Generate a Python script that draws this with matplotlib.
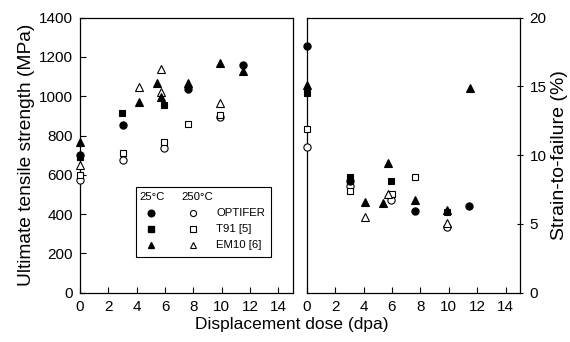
import matplotlib
matplotlib.use('Agg')
import matplotlib.pyplot as plt
from matplotlib.patches import Rectangle

plt.rcParams['font.family'] = ['Liberation Sans', 'DejaVu Sans']

# Ultimate tensile strength (MPa) vs dose (dpa)
opt25_uts_x = [0, 3, 7.65, 11.5]
opt25_uts_y = [700, 854, 1036, 1159]
opt250_uts_x = [0, 3, 5.95, 9.85]
opt250_uts_y = [572, 676, 735, 896]
t91_25_uts_x = [0, 2.95, 5.95]
t91_25_uts_y = [690, 913, 954]
t91_250_uts_x = [0, 3, 5.95, 7.65, 9.85]
t91_250_uts_y = [598, 712, 769, 857, 905]
em10_25_uts_x = [0, 4.15, 5.45, 5.75, 7.65, 9.85, 11.5]
em10_25_uts_y = [766, 973, 1066, 998, 1066, 1168, 1130]
em10_250_uts_x = [0, 4.15, 5.75, 5.75, 9.85]
em10_250_uts_y = [650, 1046, 1139, 1020, 967]

# Strain-to-failure (%) vs dose (dpa)
opt25_eps_x = [0, 3.05, 7.65, 11.45]
opt25_eps_y = [17.95, 8.1, 5.95, 6.32]
opt250_eps_x = [0, 3.05, 5.95, 9.85]
opt250_eps_y = [10.6, 7.73, 6.71, 4.77]
t91_25_eps_x = [0, 3.05, 5.9]
t91_25_eps_y = [14.5, 8.43, 8.09]
t91_250_eps_x = [0, 3.05, 6.0, 7.65, 9.85]
t91_250_eps_y = [11.93, 7.36, 7.17, 8.41, 5.86]
em10_25_eps_x = [0, 4.1, 5.4, 5.75, 7.65, 9.85, 11.5]
em10_25_eps_y = [15.1, 6.59, 6.52, 9.43, 6.71, 6.03, 14.9]
em10_250_eps_x = [4.1, 5.7, 9.85]
em10_250_eps_y = [5.47, 7.2, 5.1]

materials = ['OPTIFER', 'T91 [5]', 'EM10 [6]']
markers = ['o', 's', '^']
msizes = [5.2, 4.6, 5.4]

fig = plt.figure(figsize=(5.7, 3.42), dpi=100)
ax1 = fig.add_axes([0.1404, 0.1442, 0.3728, 0.804])
ax2 = fig.add_axes([0.538, 0.1442, 0.3742, 0.804])

uts = [(opt25_uts_x, opt25_uts_y, opt250_uts_x, opt250_uts_y),
       (t91_25_uts_x, t91_25_uts_y, t91_250_uts_x, t91_250_uts_y),
       (em10_25_uts_x, em10_25_uts_y, em10_250_uts_x, em10_250_uts_y)]
eps = [(opt25_eps_x, opt25_eps_y, opt250_eps_x, opt250_eps_y),
       (t91_25_eps_x, t91_25_eps_y, t91_250_eps_x, t91_250_eps_y),
       (em10_25_eps_x, em10_25_eps_y, em10_250_eps_x, em10_250_eps_y)]

for ax, data in [(ax1, uts), (ax2, eps)]:
    for (x25, y25, x250, y250), m, ms in zip(data, markers, msizes):
        ax.plot(x250, y250, linestyle='none', marker=m, ms=ms, mfc='white',
                mec='black', mew=0.8, clip_on=False, zorder=3)
        ax.plot(x25, y25, linestyle='none', marker=m, ms=ms, mfc='black',
                mec='black', mew=0.8, clip_on=False, zorder=4)
    ax.set_xlim(0, 15)
    ax.set_xticks(range(0, 15, 2))
    ax.tick_params(direction='in', length=4, width=0.8, labelsize=11,
                   colors='black', pad=5)
    for s in ax.spines.values():
        s.set_linewidth(0.9)

ax1.set_ylim(0, 1400)
ax1.set_yticks(range(0, 1401, 200))
ax1.set_ylabel('Ultimate tensile strength (MPa)', fontsize=13.8, labelpad=3)

ax2.set_ylim(0, 20)
ax2.set_yticks([0, 5, 10, 15, 20])
ax2.yaxis.tick_right()
ax2.yaxis.set_label_position('right')
ax2.tick_params(axis='y', direction='inout', length=4)
ax2.set_ylabel('Strain-to-failure (%)', fontsize=14, labelpad=3)

fig.text(0.512, 0.03, 'Displacement dose (dpa)', ha='center', va='bottom',
         fontsize=12.5)

# legend box drawn by hand (two marker columns, one label column)
box = Rectangle((0.265, 0.13), 0.635, 0.255, transform=ax1.transAxes,
                facecolor='white', edgecolor='black', lw=0.8, zorder=5)
ax1.add_patch(box)
ax1.text(0.34, 0.348, '25°C', transform=ax1.transAxes, ha='center',
         va='center', fontsize=8.2, zorder=6)
ax1.text(0.55, 0.348, '250°C', transform=ax1.transAxes, ha='center',
         va='center', fontsize=8.2, zorder=6)
for i, (name, m, ms) in enumerate(zip(materials, markers, msizes)):
    yy = 0.29 - i * 0.058
    ax1.plot([0.332], [yy], transform=ax1.transAxes, marker=m, ms=ms - 0.4,
             mfc='black', mec='black', linestyle='none', zorder=6)
    ax1.plot([0.532], [yy], transform=ax1.transAxes, marker=m, ms=ms - 0.8,
             mfc='white', mec='black', mew=0.8, linestyle='none', zorder=6)
    ax1.text(0.64, yy, name, transform=ax1.transAxes, ha='left',
             va='center', fontsize=8.2, zorder=6)

fig.savefig('out.png', dpi=100)
